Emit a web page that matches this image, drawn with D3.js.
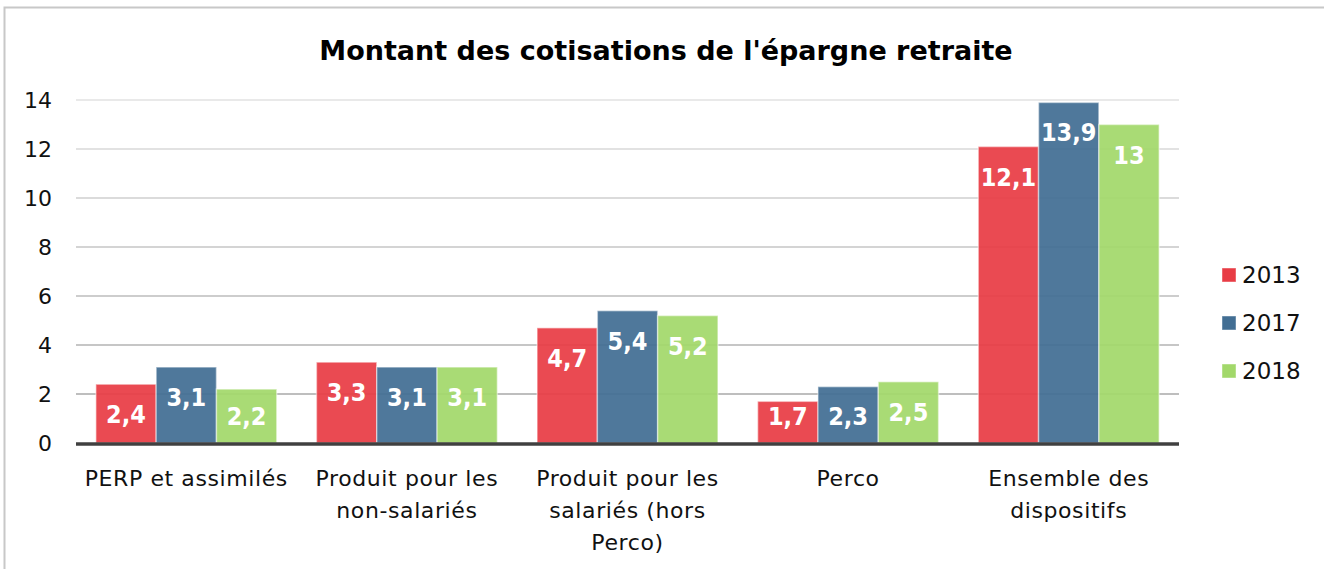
<!DOCTYPE html>
<html>
<head>
<meta charset="utf-8">
<script src="https://cdn.jsdelivr.net/npm/d3@7"></script>
<style>
  body { margin: 0; background: #fff; }
  text { font-family: "DejaVu Sans", sans-serif; }
</style>
</head>
<body>
<svg id="chart"></svg>
<script>
// data
var categories = [
  ["PERP et assimilés"],
  ["Produit pour les", "non-salariés"],
  ["Produit pour les", "salariés (hors", "Perco)"],
  ["Perco"],
  ["Ensemble des", "dispositifs"]
];
var years = ["2013", "2017", "2018"];
var v2013 = [2.4, 3.3, 4.7, 1.7, 12.1];
var v2017 = [3.1, 3.1, 5.4, 2.3, 13.9];
var v2018 = [2.2, 3.1, 5.2, 2.5, 13];
var yTicks = [0, 2, 4, 6, 8, 10, 12, 14];
var colors = ["#E83C45", "#426E93", "#A2D86A"];

var width = 1324, height = 569;
var margin = { top: 100, right: 145, bottom: 126, left: 76 };
var innerW = width - margin.left - margin.right;
var innerH = height - margin.top - margin.bottom;

var svg = d3.select("#chart")
  .attr("width", width)
  .attr("height", height);

// outer frame
svg.append("rect")
  .attr("x", 4.5).attr("y", 7.5)
  .attr("width", 1340).attr("height", 600)
  .attr("fill", "none")
  .attr("stroke", "#c8c8c8")
  .attr("stroke-width", 2);

svg.append("text")
  .attr("x", 666).attr("y", 60)
  .attr("text-anchor", "middle")
  .style("font-size", "27px")
  .style("font-weight", "bold")
  .text("Montant des cotisations de l'épargne retraite");

var g = svg.append("g")
  .attr("transform", "translate(" + margin.left + "," + margin.top + ")");

var x0 = d3.scaleBand()
  .domain(d3.range(categories.length))
  .range([0, innerW])
  .paddingInner(0.18)
  .paddingOuter(0.09);

var x1 = d3.scaleBand()
  .domain(years)
  .range([0, x0.bandwidth()]);

var y = d3.scaleLinear()
  .domain([0, 14])
  .range([innerH, 0]);

var gridColor = d3.scaleLinear()
  .domain([0, 14])
  .range(["#a0a0a0", "#e2e2e2"]);

// gridlines
g.selectAll(".grid")
  .data(yTicks.slice(1))
  .enter().append("line")
  .attr("class", "grid")
  .attr("x1", 0).attr("x2", innerW)
  .attr("y1", function(d) { return y(d); })
  .attr("y2", function(d) { return y(d); })
  .attr("stroke", function(d) { return gridColor(d); })
  .attr("stroke-width", 1.5);

// y tick labels
g.selectAll(".ytick")
  .data(yTicks)
  .enter().append("text")
  .attr("class", "ytick")
  .attr("x", -24)
  .attr("y", function(d) { return y(d); })
  .attr("dy", "0.36em")
  .attr("text-anchor", "end")
  .style("font-size", "22px")
  .attr("fill", "#111")
  .text(function(d) { return d; });

var series = [v2013, v2017, v2018];
var rows = [];
series.forEach(function(vals, si) {
  vals.forEach(function(v, ci) {
    rows.push({ year: years[si], si: si, ci: ci, value: v });
  });
});

// bars
g.selectAll(".bar")
  .data(rows)
  .enter().append("rect")
  .attr("class", "bar")
  .attr("x", function(d) { return x0(d.ci) + x1(d.year); })
  .attr("y", function(d) { return y(d.value); })
  .attr("width", x1.bandwidth())
  .attr("height", function(d) { return innerH - y(d.value); })
  .attr("fill", function(d) { return colors[d.si]; })
  .attr("fill-opacity", 0.93)
  .attr("stroke", "rgba(255,255,255,0.45)")
  .attr("stroke-width", 1.5);

// value labels
g.selectAll(".val")
  .data(rows)
  .enter().append("text")
  .attr("class", "val")
  .attr("x", function(d) { return x0(d.ci) + x1(d.year) + x1.bandwidth() / 2; })
  .attr("y", function(d) { return Math.min(y(d.value) + 39, innerH - 18); })
  .attr("text-anchor", "middle")
  .attr("fill", "#fff")
  .style("font-family", "'DejaVu Sans Condensed', 'DejaVu Sans', sans-serif")
  .style("font-size", "25px")
  .style("font-weight", "bold")
  .text(function(d) { return String(d.value).replace(".", ","); });

// baseline
g.append("line")
  .attr("x1", 0).attr("x2", innerW)
  .attr("y1", innerH + 1).attr("y2", innerH + 1)
  .attr("stroke", "#404040")
  .attr("stroke-width", 3.5);

// category labels
var cat = g.selectAll(".cat")
  .data(categories)
  .enter().append("text")
  .attr("class", "cat")
  .attr("text-anchor", "middle")
  .style("font-size", "22px")
  .style("letter-spacing", "0.6px")
  .attr("fill", "#111");
cat.each(function(lines, i) {
  d3.select(this).selectAll("tspan")
    .data(lines)
    .enter().append("tspan")
    .attr("x", x0(i) + x0.bandwidth() / 2)
    .attr("y", function(d, j) { return innerH + 43 + j * 32; })
    .text(function(d) { return d; });
});

// legend
var legend = svg.selectAll(".legend")
  .data(years)
  .enter().append("g")
  .attr("class", "legend")
  .attr("transform", function(d, i) { return "translate(1222," + (275 + i * 48) + ")"; });

legend.append("rect")
  .attr("x", 0).attr("y", -7)
  .attr("width", 14).attr("height", 14)
  .attr("fill", function(d, i) { return colors[i]; })
  .attr("stroke", "rgba(255,255,255,0.45)");

legend.append("text")
  .attr("x", 20)
  .attr("dy", "0.36em")
  .style("font-size", "23px")
  .attr("fill", "#111")
  .text(function(d) { return d; });
</script>
</body>
</html>
